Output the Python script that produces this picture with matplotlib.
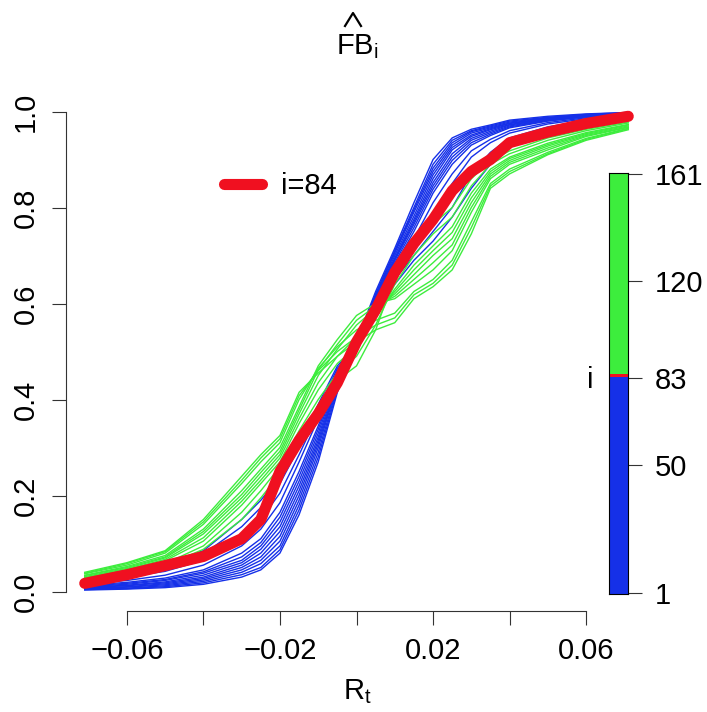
#bibliotecas importadas
import matplotlib
matplotlib.use("Agg")
import matplotlib.pyplot as plt
from matplotlib.colors import ListedColormap, BoundaryNorm
from matplotlib.lines import Line2D

#Fuentes parecidas a las de R (Helvetica / Arial)
plt.rcParams['font.family'] = ['Liberation Sans', 'DejaVu Sans']
plt.rcParams['mathtext.fontset'] = 'custom'
plt.rcParams['mathtext.rm'] = 'Liberation Sans'
plt.rcParams['mathtext.it'] = 'Liberation Sans'
plt.rcParams['mathtext.bf'] = 'Liberation Sans:bold'

#Colores de las familias de curvas
azul = '#1530e8'
verde = '#3ded3d'
rojo = '#f01020'

#Rejilla de rendimientos R_t donde se leyeron las curvas
R = [-0.071, -0.06, -0.05, -0.04, -0.03, -0.025, -0.02, -0.015, -0.01, -0.005, 0.0,
     0.005, 0.01, 0.015, 0.02, 0.025, 0.03, 0.035, 0.04, 0.05, 0.06, 0.071]

#Curvas azules (i = 1..83)
b1 = [0.004, 0.006, 0.010, 0.018, 0.035, 0.050, 0.087, 0.170, 0.280, 0.420, 0.520,
      0.620, 0.710, 0.800, 0.890, 0.940, 0.960, 0.970, 0.980, 0.988, 0.994, 0.998]
b2 = [0.006, 0.009, 0.014, 0.024, 0.045, 0.065, 0.105, 0.190, 0.300, 0.430, 0.515,
      0.615, 0.705, 0.790, 0.875, 0.930, 0.955, 0.966, 0.976, 0.986, 0.992, 0.997]
b3 = [0.008, 0.012, 0.018, 0.030, 0.055, 0.080, 0.125, 0.210, 0.315, 0.435, 0.515,
      0.610, 0.695, 0.775, 0.860, 0.920, 0.948, 0.962, 0.973, 0.984, 0.991, 0.996]
b4 = [0.010, 0.015, 0.023, 0.038, 0.065, 0.095, 0.145, 0.230, 0.330, 0.445, 0.515,
      0.605, 0.690, 0.765, 0.845, 0.905, 0.940, 0.956, 0.970, 0.982, 0.990, 0.996]
b5 = [0.013, 0.019, 0.028, 0.045, 0.080, 0.110, 0.165, 0.250, 0.345, 0.450, 0.515,
      0.600, 0.680, 0.750, 0.830, 0.890, 0.930, 0.950, 0.966, 0.980, 0.989, 0.995]
b6 = [0.016, 0.023, 0.034, 0.055, 0.095, 0.130, 0.185, 0.270, 0.360, 0.455, 0.515,
      0.595, 0.670, 0.735, 0.810, 0.870, 0.918, 0.942, 0.960, 0.977, 0.987, 0.994]
b7 = [0.020, 0.030, 0.042, 0.065, 0.110, 0.150, 0.205, 0.285, 0.370, 0.460, 0.515,
      0.590, 0.660, 0.720, 0.790, 0.850, 0.905, 0.935, 0.955, 0.974, 0.985, 0.993]
b8 = [0.025, 0.040, 0.058, 0.085, 0.150, 0.190, 0.240, 0.310, 0.390, 0.470, 0.515,
      0.585, 0.650, 0.700, 0.750, 0.800, 0.870, 0.915, 0.945, 0.968, 0.982, 0.992]
b9 = [0.005, 0.007, 0.012, 0.021, 0.040, 0.058, 0.095, 0.180, 0.290, 0.425, 0.518,
      0.618, 0.708, 0.795, 0.882, 0.935, 0.958, 0.968, 0.978, 0.987, 0.993, 0.997]
b10 = [0.007, 0.010, 0.016, 0.027, 0.050, 0.072, 0.115, 0.200, 0.308, 0.432, 0.515,
       0.612, 0.700, 0.782, 0.868, 0.925, 0.951, 0.964, 0.975, 0.985, 0.992, 0.997]
b11 = [0.009, 0.013, 0.020, 0.034, 0.060, 0.088, 0.135, 0.220, 0.322, 0.440, 0.515,
       0.607, 0.692, 0.770, 0.852, 0.912, 0.944, 0.959, 0.972, 0.983, 0.991, 0.996]
b12 = [0.011, 0.017, 0.025, 0.041, 0.072, 0.102, 0.155, 0.240, 0.338, 0.448, 0.515,
       0.603, 0.685, 0.758, 0.838, 0.898, 0.935, 0.953, 0.968, 0.981, 0.989, 0.995]
b13 = [0.003, 0.005, 0.008, 0.015, 0.030, 0.045, 0.080, 0.160, 0.270, 0.415, 0.522,
       0.625, 0.715, 0.810, 0.900, 0.945, 0.963, 0.972, 0.982, 0.990, 0.995, 0.998]
b14 = [0.022, 0.035, 0.050, 0.078, 0.135, 0.175, 0.225, 0.300, 0.380, 0.465, 0.515,
       0.590, 0.640, 0.690, 0.730, 0.780, 0.840, 0.890, 0.925, 0.955, 0.975, 0.990]
curvas_azules = [b1, b2, b3, b4, b5, b6, b7, b8, b9, b10, b11, b12, b13, b14]

#Curvas verdes (i = 85..161)
g1 = [0.040, 0.060, 0.085, 0.150, 0.240, 0.285, 0.325, 0.415, 0.455, 0.490, 0.520,
      0.545, 0.560, 0.610, 0.635, 0.670, 0.745, 0.840, 0.870, 0.910, 0.940, 0.962]
g2 = [0.037, 0.055, 0.080, 0.140, 0.225, 0.270, 0.310, 0.400, 0.465, 0.510, 0.545,
      0.565, 0.580, 0.625, 0.650, 0.690, 0.770, 0.850, 0.880, 0.915, 0.944, 0.965]
g3 = [0.034, 0.052, 0.075, 0.130, 0.210, 0.255, 0.300, 0.385, 0.470, 0.525, 0.575,
      0.600, 0.610, 0.640, 0.670, 0.710, 0.790, 0.860, 0.890, 0.920, 0.948, 0.967]
g4 = [0.031, 0.048, 0.070, 0.120, 0.195, 0.240, 0.285, 0.370, 0.450, 0.505, 0.555,
      0.590, 0.620, 0.660, 0.700, 0.735, 0.810, 0.870, 0.898, 0.928, 0.952, 0.970]
g5 = [0.028, 0.044, 0.064, 0.105, 0.180, 0.225, 0.270, 0.350, 0.420, 0.475, 0.510,
      0.570, 0.630, 0.680, 0.720, 0.760, 0.830, 0.880, 0.905, 0.934, 0.956, 0.973]
g6 = [0.026, 0.040, 0.058, 0.095, 0.165, 0.210, 0.260, 0.335, 0.400, 0.455, 0.490,
      0.555, 0.640, 0.700, 0.745, 0.780, 0.845, 0.890, 0.912, 0.940, 0.960, 0.976]
g7 = [0.024, 0.037, 0.054, 0.088, 0.150, 0.195, 0.245, 0.320, 0.385, 0.440, 0.470,
      0.545, 0.655, 0.715, 0.765, 0.800, 0.860, 0.897, 0.918, 0.945, 0.963, 0.978]
g8 = [0.038, 0.058, 0.083, 0.145, 0.232, 0.278, 0.318, 0.408, 0.460, 0.500, 0.530,
      0.555, 0.570, 0.618, 0.642, 0.680, 0.758, 0.845, 0.875, 0.912, 0.942, 0.964]
g9 = [0.033, 0.050, 0.072, 0.125, 0.202, 0.248, 0.292, 0.378, 0.462, 0.515, 0.565,
      0.595, 0.615, 0.650, 0.685, 0.722, 0.800, 0.865, 0.894, 0.924, 0.950, 0.968]
g10 = [0.029, 0.046, 0.067, 0.112, 0.188, 0.232, 0.278, 0.360, 0.435, 0.490, 0.530,
       0.580, 0.625, 0.670, 0.710, 0.748, 0.820, 0.875, 0.902, 0.931, 0.954, 0.972]
curvas_verdes = [g1, g2, g3, g4, g5, g6, g7, g8, g9, g10]

#Curva destacada i = 84
curva_roja = [0.017, 0.035, 0.054, 0.073, 0.110, 0.150, 0.250, 0.315, 0.370, 0.435, 0.520,
              0.587, 0.665, 0.725, 0.775, 0.835, 0.875, 0.900, 0.935, 0.957, 0.975, 0.990]

#Ejes y etiquetas
x_ticks = [-0.06, -0.04, -0.02, 0.0, 0.02, 0.04, 0.06]
x_etiquetas = ['\u22120.06', '', '\u22120.02', '', '0.02', '', '0.06']
y_ticks = [0.0, 0.2, 0.4, 0.6, 0.8, 1.0]
y_etiquetas = ['0.0', '0.2', '0.4', '0.6', '0.8', '1.0']

#Barra de colores del indice i
i_limites = [0.5, 83.5, 84.5, 161.5]
i_colores = [azul, rojo, verde]
i_ticks = [1, 50, 83, 120, 161]

W, H = 707, 712
fs = 21
gris = '#333333'

fig = plt.figure(figsize=(W / 100, H / 100), dpi=100)

#Panel principal
ax = fig.add_axes([66 / W, (H - 610.7) / H, 581 / W, 518.4 / H])
for curva in curvas_azules:
    ax.plot(R, curva, color=azul, lw=1.0)
for curva in curvas_verdes:
    ax.plot(R, curva, color=verde, lw=1.0)
ax.plot(R, curva_roja, color=rojo, lw=8, solid_capstyle='round', solid_joinstyle='round')

ax.set_xlim(-0.0759, 0.0759)
ax.set_ylim(-0.04, 1.04)
ax.spines['top'].set_visible(False)
ax.spines['right'].set_visible(False)
ax.spines['left'].set_bounds(0, 1)
ax.spines['bottom'].set_bounds(-0.06, 0.06)
for lado in ['left', 'bottom']:
    ax.spines[lado].set_color(gris)
    ax.spines[lado].set_linewidth(0.8)
ax.set_xticks(x_ticks)
ax.set_xticklabels(x_etiquetas)
ax.set_yticks(y_ticks)
ax.set_yticklabels(y_etiquetas, rotation=90, va='center')
ax.tick_params(length=10, width=0.8, color=gris, labelsize=fs, pad=9)

#Leyenda
linea_leyenda = Line2D([], [], color=rojo, lw=8, solid_capstyle='round')
ax.legend(handles=[linea_leyenda], labels=['i=84'], loc='center left',
          bbox_to_anchor=(0.252, 0.8193), frameon=False, fontsize=fs,
          handlelength=1.3, handletextpad=0.65, borderaxespad=0)

#Titulo (FB con sombrero) y etiqueta del eje x
fig.text(357 / W, (H - 54) / H, r'$\mathrm{FB}_{\mathrm{i}}$', ha='center', va='baseline', fontsize=fs)
#sombrero dibujado como trazo sobre FB
sombrero = Line2D([345 / W, 353 / W, 361 / W], [(H - 26) / H, (H - 13) / H, (H - 26) / H],
                  transform=fig.transFigure, color='black', lw=1.6)
fig.add_artist(sombrero)
fig.text(357 / W, (H - 699) / H, r'$\mathrm{R}_{\mathrm{t}}$', ha='center', va='baseline', fontsize=fs)

#Barra de colores
cax = fig.add_axes([609 / W, (H - 594.3) / H, 19 / W, 421.6 / H])
cmap = ListedColormap(i_colores)
norm = BoundaryNorm(i_limites, cmap.N)
cax.pcolormesh([0, 1], i_limites, [[1], [84], [120]], cmap=cmap, norm=norm)
cax.set_xlim(0, 1)
cax.set_ylim(0.5, 161.5)
cax.set_xticks([])
cax.yaxis.tick_right()
cax.set_yticks(i_ticks)
cax.tick_params(axis='y', length=10, width=0.8, color=gris, labelsize=fs, pad=9)
for lado in cax.spines.values():
    lado.set_linewidth(0.8)
fig.text(590 / W, (H - 380) / H, 'i', ha='center', va='center', fontsize=fs)

fig.savefig('out.png', dpi=100)
